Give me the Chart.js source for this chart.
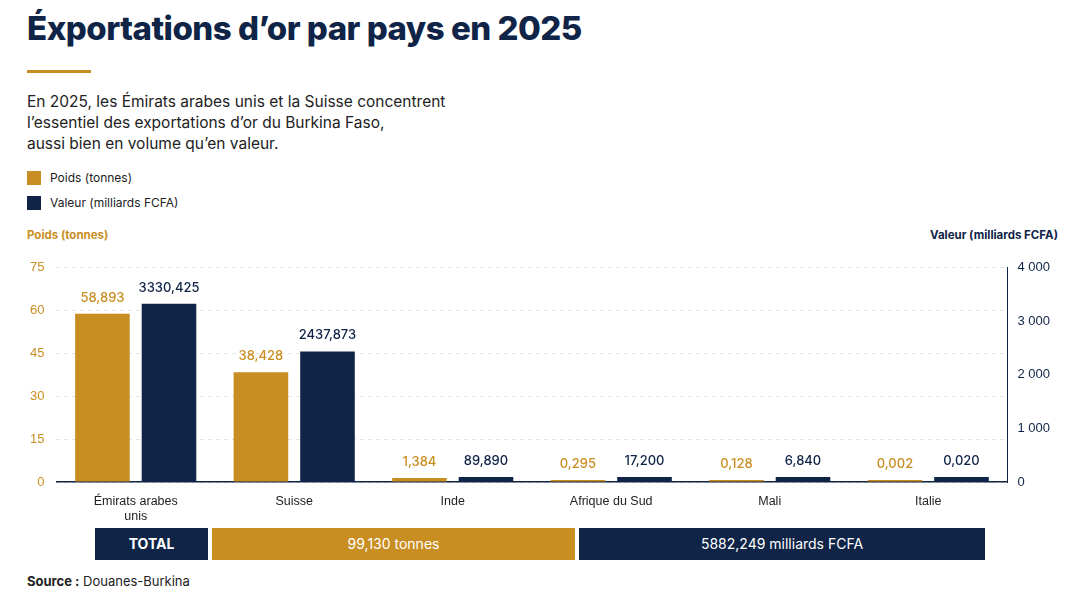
<!DOCTYPE html>
<html><head><meta charset="utf-8">
<script src="https://cdn.jsdelivr.net/npm/chart.js@4/dist/chart.umd.min.js"></script>
<style>
body{margin:0;width:1080px;height:599px;background:#fff;font-family:Inter,"Noto Sans",sans-serif;position:relative;overflow:hidden;color:#1a1a2e}
h1{position:absolute;left:27px;top:8px;margin:0;font-size:33px;font-weight:800;color:#0f2447;letter-spacing:-0.5px}
.bar{position:absolute;left:27px;top:70px;width:64px;height:3px;background:#c98e22}
.intro{position:absolute;left:27px;top:91px;font-size:15.5px;line-height:21px;color:#222}
.leg{position:absolute;left:27px;font-size:12px;color:#222;display:flex;align-items:center}
.leg span{display:inline-block;width:14px;height:14px;margin-right:9px}
.ax{position:absolute;top:228px;font-size:11.5px;font-weight:700}
#wrap{position:absolute;left:0;top:248px;width:1080px;height:280px}
.tot{position:absolute;top:528px;height:32px;line-height:32px;text-align:center;color:#fff;font-size:14px}
.src{position:absolute;left:27px;top:573px;font-size:13px;color:#222}
</style></head><body>
<h1>Éxportations d’or par pays en 2025</h1>
<div class="bar"></div>
<div class="intro">En 2025, les Émirats arabes unis et la Suisse concentrent<br>l’essentiel des exportations d’or du Burkina Faso,<br>aussi bien en volume qu’en valeur.</div>
<div class="leg" style="top:170px"><span style="background:#c98e22"></span>Poids (tonnes)</div>
<div class="leg" style="top:195px"><span style="background:#0f2447"></span>Valeur (milliards FCFA)</div>
<div class="ax" style="left:27px;color:#c98e22">Poids (tonnes)</div>
<div class="ax" style="right:22px;color:#0f2447">Valeur (milliards FCFA)</div>
<div id="wrap"><canvas id="c"></canvas></div>
<div class="tot" style="left:95px;width:113px;background:#0f2447;font-weight:700">TOTAL</div>
<div class="tot" style="left:212px;width:363px;background:#c98e22">99,130 tonnes</div>
<div class="tot" style="left:579px;width:406px;background:#0f2447">5882,249 milliards FCFA</div>
<div class="src"><b>Source :</b> Douanes-Burkina</div>
<script>
const pays = [['Émirats arabes','unis'], 'Suisse', 'Inde', 'Afrique du Sud', 'Mali', 'Italie'];
const poids = [58.893, 38.428, 1.384, 0.295, 0.128, 0.002];
const valeur = [3330.425, 2437.873, 89.890, 17.200, 6.840, 0.020];
const poidsLabels = ['58,893', '38,428', '1,384', '0,295', '0,128', '0,002'];
const valeurLabels = ['3330,425', '2437,873', '89,890', '17,200', '6,840', '0,020'];
const gold = '#c98e22', navy = '#0f2447';

const valLabels = {
  id: 'valLabels',
  afterDatasetsDraw(chart) {
    const ctx = chart.ctx;
    ctx.save();
    ctx.font = '500 13px Inter, sans-serif';
    ctx.textAlign = 'center';
    chart.data.datasets.forEach((ds, i) => {
      const labs = i === 0 ? poidsLabels : valeurLabels;
      chart.getDatasetMeta(i).data.forEach((el, j) => {
        ctx.fillStyle = i === 0 ? gold : navy;
        ctx.fillText(labs[j], el.x, el.y - 12);
      });
    });
    ctx.restore();
  }
};

new Chart(document.getElementById('c'), {
  type: 'bar',
  data: {
    labels: pays,
    datasets: [
      {label: 'Poids (tonnes)', data: poids, backgroundColor: gold, yAxisID: 'y', categoryPercentage: 0.84, barPercentage: 0.82, minBarLength: 2},
      {label: 'Valeur', data: valeur, backgroundColor: navy, yAxisID: 'y2', categoryPercentage: 0.84, barPercentage: 0.82, minBarLength: 5}
    ]
  },
  options: {
    responsive: true, maintainAspectRatio: false, animation: false,
    layout: {padding: {left: 18, right: 20, top: 10}},
    plugins: {legend: {display: false}, tooltip: {enabled: false}},
    scales: {
      x: {grid: {display: false}, border: {color: navy, width: 1.5},
          ticks: {color: '#222', font: {size: 12.5}, padding: 4}},
      y: {position: 'left', min: 0, max: 75, ticks: {stepSize: 15, color: gold, font: {size: 13}, padding: 12},
          grid: {color: '#e4e4e4', drawTicks: false}, border: {display: false, dash: [4, 4]}},
      y2: {position: 'right', min: 0, max: 4000,
           ticks: {stepSize: 1000, color: navy, font: {size: 13}, padding: 10,
                   callback: v => v === 0 ? '0' : (v / 1000) + ' 000'},
           grid: {display: false, drawTicks: false}, border: {color: navy, width: 1}}
    }
  },
  plugins: [valLabels]
});
</script>
</body></html>
